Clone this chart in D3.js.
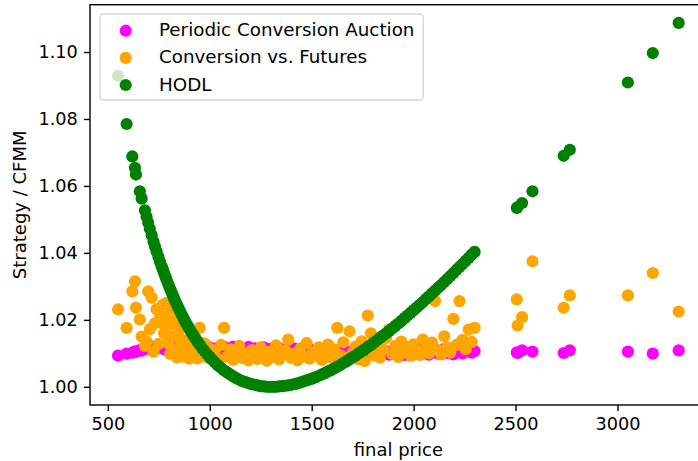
<!DOCTYPE html>
<html>
<head>
<meta charset="utf-8">
<script src="https://cdn.jsdelivr.net/npm/d3@7"></script>
<style>
  body { margin: 0; background: #fff; }
  svg { display: block; }
  text { font-family: "DejaVu Sans", sans-serif; fill: #000; }
</style>
</head>
<body>
<svg id="chart" width="698" height="461"></svg>
<script>
// Final price of each simulated path, and each strategy's value relative to the CFMM.
const finalPrice = [
  550, 592, 620, 633, 638, 657, 666, 682, 690, 698, 706, 715, 724, 731, 739, 748, 756, 764,
  770, 776, 782, 788, 794, 800, 806, 812, 818, 825, 832, 839, 846, 853, 860,
  868, 876, 884, 892, 900, 910, 920, 930, 940, 950, 962, 974, 986, 998, 1010,
  1025, 1040, 1055, 1070, 1085, 1100, 1115, 1130, 1145, 1160, 1175, 1190, 1205, 1220, 1235,
  1250, 1265, 1280, 1295, 1310, 1325, 1340, 1355, 1370, 1385, 1400, 1415, 1430, 1445, 1460,
  1475, 1490, 1505, 1520, 1535, 1550, 1565, 1580, 1595, 1610, 1625, 1640, 1655, 1670, 1685,
  1700, 1715, 1730, 1745, 1760, 1775, 1790, 1805, 1820, 1835, 1850, 1865, 1880, 1895, 1910,
  1925, 1940, 1955, 1970, 1985, 2000, 2015, 2030, 2045, 2060, 2075, 2090, 2105, 2120, 2135,
  2150, 2165, 2180, 2195, 2210, 2225, 2240, 2255, 2270, 2285, 2299,
  2506, 2510, 2532, 2583, 2736, 2766, 3051, 3173, 3300
];

const auctionRatio = [
  1.0093, 1.0099, 1.0102, 1.0106, 1.0104, 1.0110, 1.0108, 1.0113, 1.0114, 1.0116, 1.0117, 1.0112, 1.0119, 1.0113, 1.0118, 1.0120, 1.0116, 1.0115,
  1.0117, 1.0112, 1.0120, 1.0114, 1.0109, 1.0118, 1.0113, 1.0121, 1.0110, 1.0116, 1.0119, 1.0111, 1.0115, 1.0122, 1.0112,
  1.0117, 1.0108, 1.0119, 1.0114, 1.0110, 1.0118, 1.0113, 1.0107, 1.0116, 1.0120, 1.0111, 1.0115, 1.0109, 1.0118, 1.0112,
  1.0106, 1.0117, 1.0111, 1.0119, 1.0108, 1.0114, 1.0120, 1.0110, 1.0116, 1.0105, 1.0113, 1.0119, 1.0109, 1.0115, 1.0104,
  1.0112, 1.0118, 1.0107, 1.0113, 1.0102, 1.0110, 1.0116, 1.0105, 1.0111, 1.0099, 1.0108, 1.0114, 1.0103, 1.0109, 1.0098,
  1.0106, 1.0112, 1.0101, 1.0107, 1.0097, 1.0105, 1.0111, 1.0100, 1.0106, 1.0096, 1.0104, 1.0110, 1.0099, 1.0105, 1.0095,
  1.0103, 1.0109, 1.0098, 1.0104, 1.0094, 1.0102, 1.0108, 1.0097, 1.0103, 1.0093, 1.0101, 1.0107, 1.0096, 1.0102, 1.0110,
  1.0099, 1.0105, 1.0095, 1.0103, 1.0109, 1.0098, 1.0104, 1.0112, 1.0100, 1.0106, 1.0096, 1.0104, 1.0110, 1.0099, 1.0105,
  1.0113, 1.0101, 1.0107, 1.0097, 1.0105, 1.0111, 1.0100, 1.0106, 1.0109, 1.0102, 1.0107,
  1.0103, 1.0101, 1.0109, 1.0105, 1.0101, 1.0109, 1.0105, 1.0099, 1.0109
];

const futuresRatio = [
  1.0231, 1.0176, 1.0285, 1.0315, 1.0236, 1.0201, 1.0150, 1.0122, 1.0135, 1.0285, 1.0172, 1.0266, 1.0105, 1.0190, 1.0232, 1.0128, 1.0215, 1.0190,
  1.0245, 1.0160, 1.0210, 1.0251, 1.0130, 1.0185, 1.0098, 1.0225, 1.0150, 1.0112, 1.0195, 1.0088, 1.0165, 1.0120, 1.0142,
  1.0090, 1.0178, 1.0105, 1.0135, 1.0084, 1.0158, 1.0096, 1.0120, 1.0085, 1.0176, 1.0102, 1.0130, 1.0088, 1.0115, 1.0094,
  1.0108, 1.0082, 1.0125, 1.0176, 1.0090, 1.0112, 1.0080, 1.0101, 1.0122, 1.0086, 1.0098, 1.0079, 1.0110, 1.0092, 1.0083,
  1.0118, 1.0096, 1.0078, 1.0105, 1.0089, 1.0124, 1.0082, 1.0097, 1.0110, 1.0141, 1.0086, 1.0099, 1.0079, 1.0115, 1.0090,
  1.0131, 1.0084, 1.0103, 1.0093, 1.0118, 1.0080, 1.0107, 1.0126, 1.0088, 1.0112, 1.0176, 1.0095, 1.0133, 1.0085, 1.0166,
  1.0101, 1.0120, 1.0082, 1.0136, 1.0077, 1.0213, 1.0160, 1.0094, 1.0128, 1.0087, 1.0112, 1.0146, 1.0171, 1.0098, 1.0122,
  1.0089, 1.0135, 1.0104, 1.0118, 1.0092, 1.0127, 1.0108, 1.0095, 1.0141, 1.0113, 1.0100, 1.0132, 1.0256, 1.0110, 1.0097,
  1.0151, 1.0118, 1.0103, 1.0203, 1.0125, 1.0256, 1.0140, 1.0112, 1.0171, 1.0134, 1.0176,
  1.0261, 1.0183, 1.0208, 1.0375, 1.0236, 1.0273, 1.0273, 1.0340, 1.0225
];

const hodlRatio = [
  1.0929, 1.0785, 1.0688, 1.0654, 1.0634, 1.0584, 1.0562, 1.0527, 1.0508, 1.0490, 1.0472, 1.0453, 1.0434, 1.0420, 1.0405, 1.0388, 1.0373, 1.0360,
  1.0350, 1.0340, 1.0330, 1.0320, 1.0310, 1.0301, 1.0292, 1.0283, 1.0274, 1.0264, 1.0254, 1.0245, 1.0236, 1.0227, 1.0218,
  1.0209, 1.0199, 1.0190, 1.0182, 1.0173, 1.0163, 1.0153, 1.0144, 1.0135, 1.0126, 1.0116, 1.0107, 1.0098, 1.0090, 1.0082,
  1.0073, 1.0064, 1.0057, 1.0049, 1.0043, 1.0037, 1.0031, 1.0026, 1.0021, 1.0017, 1.0014, 1.0011, 1.0008, 1.0006, 1.0004,
  1.0002, 1.0001, 1.0000, 1.0000, 1.0000, 1.0000, 1.0001, 1.0002, 1.0003, 1.0004, 1.0006, 1.0008, 1.0010, 1.0013, 1.0016,
  1.0019, 1.0022, 1.0025, 1.0029, 1.0033, 1.0037, 1.0041, 1.0046, 1.0050, 1.0055, 1.0060, 1.0065, 1.0071, 1.0076, 1.0082,
  1.0088, 1.0093, 1.0100, 1.0106, 1.0112, 1.0119, 1.0125, 1.0132, 1.0139, 1.0146, 1.0153, 1.0160, 1.0167, 1.0174, 1.0182,
  1.0189, 1.0197, 1.0205, 1.0213, 1.0221, 1.0229, 1.0237, 1.0245, 1.0253, 1.0262, 1.0270, 1.0279, 1.0287, 1.0296, 1.0304,
  1.0313, 1.0322, 1.0331, 1.0340, 1.0349, 1.0358, 1.0367, 1.0376, 1.0385, 1.0395, 1.0403,
  1.0534, 1.0537, 1.0549, 1.0584, 1.0690, 1.0708, 1.0909, 1.0997, 1.1087
];

const seriesNames = ["Periodic Conversion Auction", "Conversion vs. Futures", "HODL"];
const seriesColors = ["#ff00ff", "#ffa500", "#008000"];
const xTickValues = [500, 1000, 1500, 2000, 2500, 3000];
const yTickValues = [1.00, 1.02, 1.04, 1.06, 1.08, 1.10];

const series = [auctionRatio, futuresRatio, hodlRatio];

const plot = { left: 90, right: 706.7, top: 4.7, bottom: 405 };
const markerR = 6.1;
const tickLen = 6.1;
const tickPad = 6.1;
const spineW = 1.4;

// Axis limits: data extent with a 5% margin on each side.
function padded(ext) {
  const d = ext[1] - ext[0];
  return [ext[0] - 0.05 * d, ext[1] + 0.05 * d];
}

const x = d3.scaleLinear()
  .domain(padded(d3.extent(finalPrice)))
  .range([plot.left, plot.right]);

const y = d3.scaleLinear()
  .domain(padded(d3.extent(series.flat())))
  .range([plot.bottom, plot.top]);

const svg = d3.select("#chart");

svg.append("defs").append("clipPath").attr("id", "plot-clip")
  .append("rect")
  .attr("x", plot.left).attr("y", plot.top)
  .attr("width", plot.right - plot.left).attr("height", plot.bottom - plot.top);

// Scatter layers, drawn in legend order so HODL sits on top.
const layers = svg.append("g").attr("clip-path", "url(#plot-clip)");
series.forEach((vals, k) => {
  layers.append("g")
    .selectAll("circle")
    .data(finalPrice.map((p, i) => [p, vals[i]]))
    .join("circle")
    .attr("cx", d => x(d[0]))
    .attr("cy", d => y(d[1]))
    .attr("r", markerR)
    .attr("fill", seriesColors[k]);
});

// Axes
const xAxis = svg.append("g")
  .attr("transform", `translate(0,${plot.bottom})`)
  .call(d3.axisBottom(x).tickValues(xTickValues).tickFormat(d3.format("d"))
    .tickSize(tickLen).tickPadding(tickPad));
const yAxis = svg.append("g")
  .attr("transform", `translate(${plot.left},0)`)
  .call(d3.axisLeft(y).tickValues(yTickValues).tickFormat(d3.format(".2f"))
    .tickSize(tickLen).tickPadding(tickPad));

[xAxis, yAxis].forEach(a => {
  a.select(".domain").remove();
  a.selectAll(".tick line").attr("stroke", "#000").attr("stroke-width", spineW);
  a.selectAll(".tick text")
    .attr("fill", "#000")
    .style("font-family", "'DejaVu Sans', sans-serif")
    .style("font-size", "17.7px");
});

// Frame
svg.append("rect")
  .attr("x", plot.left).attr("y", plot.top)
  .attr("width", plot.right - plot.left).attr("height", plot.bottom - plot.top)
  .attr("fill", "none").attr("stroke", "#000").attr("stroke-width", spineW)
  .attr("stroke-linejoin", "miter");

// Axis titles
svg.append("text")
  .attr("x", (plot.left + plot.right) / 2)
  .attr("y", 456)
  .attr("text-anchor", "middle")
  .style("font-size", "18px")
  .text("final price");

svg.append("text")
  .attr("transform", `translate(26,${(plot.top + plot.bottom) / 2}) rotate(-90)`)
  .attr("text-anchor", "middle")
  .style("font-size", "18px")
  .text("Strategy / CFMM");

// Legend
const legend = svg.append("g");
legend.append("rect")
  .attr("x", 100).attr("y", 14)
  .attr("width", 323.3).attr("height", 86)
  .attr("rx", 3.6).attr("ry", 3.6)
  .attr("fill", "#fff").attr("fill-opacity", 0.8)
  .attr("stroke", "#cccccc").attr("stroke-opacity", 0.8).attr("stroke-width", 1.4);

seriesNames.forEach((name, k) => {
  const cy = 30.7 + 27.15 * k;
  legend.append("circle")
    .attr("cx", 125.7).attr("cy", cy).attr("r", markerR)
    .attr("fill", seriesColors[k]);
  legend.append("text")
    .attr("x", 159).attr("y", cy + 5.5)
    .style("font-size", "18.3px")
    .text(name);
});
</script>
</body>
</html>
